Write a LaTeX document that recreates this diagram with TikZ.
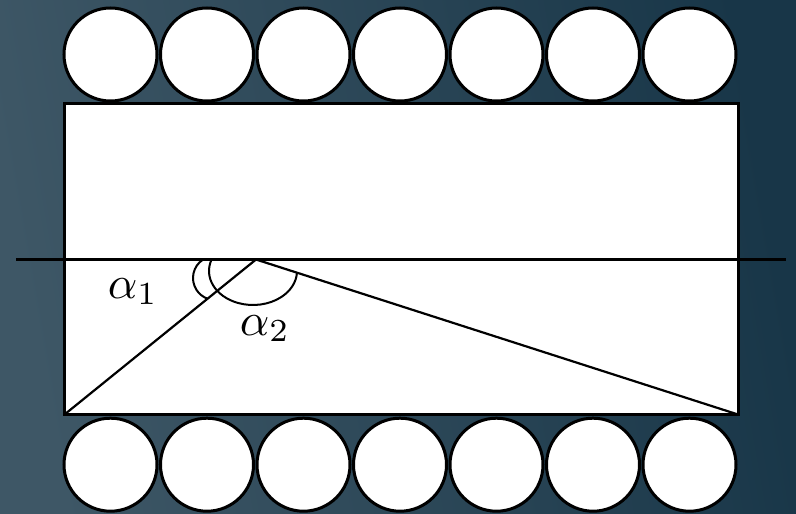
\documentclass[tikz,border=0pt]{standalone}
\definecolor{bgL}{RGB}{62,87,102}
\definecolor{bgR}{RGB}{24,54,72}
\tikzset{
  ball/.style={circle, draw=black, fill=white, line width=3pt, minimum size=93pt, inner sep=0pt, outer sep=0pt},
  slab/.style={draw=black, fill=white, line width=3pt, inner sep=0pt, outer sep=0pt},
  ray/.style={draw=black, line width=2.2pt},
  anglemark/.style={draw=black, line width=2pt},
  lbl/.style={inner sep=0pt, anchor=base west, scale=4.6}
}
\begin{document}
\begin{tikzpicture}[x=1pt,y=1pt]
\useasboundingbox (0,0) rectangle (796,-514);
\shade[left color=bgL, right color=bgR, shading angle=100] (0,0) rectangle (796,-514);
% rows of circles
\foreach \i in {0,...,6}{
  \node[ball] (t\i) at ({110.5+96.5*\i},-54.5) {};
  \node[ball] (b\i) at ({110.5+96.5*\i},-464.7) {};
}
% slab
\node[slab, minimum width=673.5pt, minimum height=311.5pt] (box) at (401.25,-258.75) {};
% points
\coordinate (hl) at (16,-259.5);
\coordinate (hr) at (786,-259.5);
\coordinate (apex) at (256,-259.5);
% lines
\draw[ray] (hl) -- (hr);
\draw[ray] (box.south west) -- (apex) -- (box.south east);
% angle marks
\draw[anglemark] (215,-278) ++(122.8:22) arc[start angle=122.8, end angle=250.6, radius=22];
\draw[anglemark] (253,-271) ++({44*cos(160)},{34*sin(160)}) arc[start angle=160, end angle=356.5, x radius=44, y radius=34];
% labels
\node[lbl] (a1) at (107,-298) {$\alpha_1$};
\node[lbl] (a2) at (239,-335) {$\alpha_2$};
\end{tikzpicture}
\end{document}
